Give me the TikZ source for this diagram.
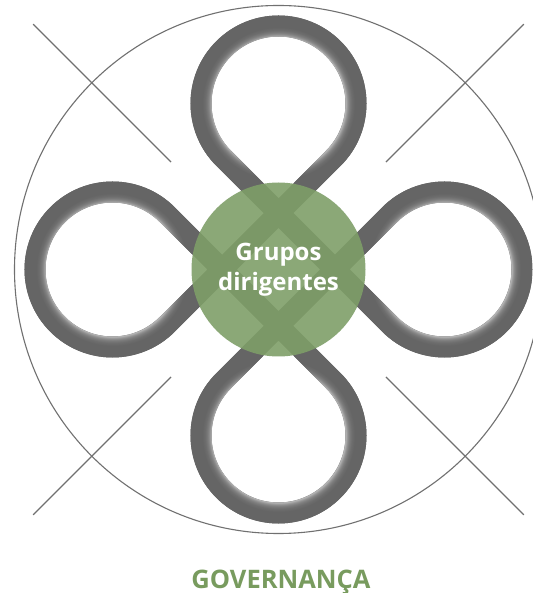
\documentclass[tikz,border=0pt]{standalone}
\usepackage{fontspec}
\setmainfont{Open Sans}
\definecolor{knot}{HTML}{656565}
\definecolor{knotA}{gray}{0.70}
\definecolor{knotB}{gray}{0.58}
\definecolor{knotC}{gray}{0.49}
\definecolor{knotD}{gray}{0.43}
\definecolor{thinline}{HTML}{707070}
\definecolor{leaf}{HTML}{7E9E68}
\definecolor{titlegreen}{HTML}{789B5E}
\pgfdeclareradialshading{loopshade}{\pgfpoint{0bp}{0bp}}{%
  color(0bp)=(knotA); color(67bp)=(knotA); color(68.5bp)=(knotB);
  color(70.5bp)=(knotC); color(73bp)=(knotD); color(76bp)=(knot);
  color(100bp)=(knot)}
\tikzset{
  guide/.style={draw=thinline, line width=1.1pt},
  knotline/.style={draw=knot, line width=21pt},
  leafcircle/.style={circle, fill=leaf, fill opacity=0.9, text opacity=1,
    text=white, minimum size=174pt, inner sep=0pt, align=center,
    font=\bfseries\fontsize{24}{30}\selectfont},
  titletext/.style={text=titlegreen, font=\bfseries\fontsize{25.5}{28}\selectfont,
    inner sep=0pt, anchor=base}
}
\begin{document}
\begin{tikzpicture}[x=1pt,y=1pt]
\useasboundingbox (-278.5,-323.5) rectangle (253.5,269.5);
% outer guide circle and diagonals
\draw[guide] (0,0) circle[radius=264pt];
\foreach \a in {45,135,225,315}{
  \draw[guide] (\a:152pt) -- (\a:347pt);
}
% the four-loop knot
\draw[knotline]
  ([shift={(0,166)}]-45:77.5pt) arc[start angle=-45,end angle=225,radius=77.5pt]
  -- ([shift={(166,0)}]-135:77.5pt) arc[start angle=-135,end angle=135,radius=77.5pt]
  -- ([shift={(0,-166)}]135:77.5pt) arc[start angle=135,end angle=405,radius=77.5pt]
  -- ([shift={(-166,0)}]45:77.5pt) arc[start angle=45,end angle=315,radius=77.5pt]
  -- cycle;
% inner-edge highlight of each loop
\foreach \ang in {0,-90,180,90}{
  \begin{scope}[shift={(\ang+90:166pt)}, rotate=\ang]
    \clip (-45:67pt) -- (-45:88pt) arc[start angle=-45,end angle=225,radius=88pt]
          -- (225:67pt) arc[start angle=225,end angle=-45,radius=67pt] -- cycle
          (-47.38,-47.38) -- (-62.22,-62.22) -- (-30.40,-94.04) -- (-15.56,-79.20) -- cycle
          (47.38,-47.38) -- (15.56,-79.20) -- (30.40,-94.04) -- (62.22,-62.22) -- cycle;
    \pgftext{\pgfuseshading{loopshade}}
  \end{scope}
}
% centre
\node[leafcircle] (core) at (0,0) {Grupos\\dirigentes};
\node[titletext] (gov) at (2.5,-318.5) {GOVERNANÇA};
\end{tikzpicture}
\end{document}
